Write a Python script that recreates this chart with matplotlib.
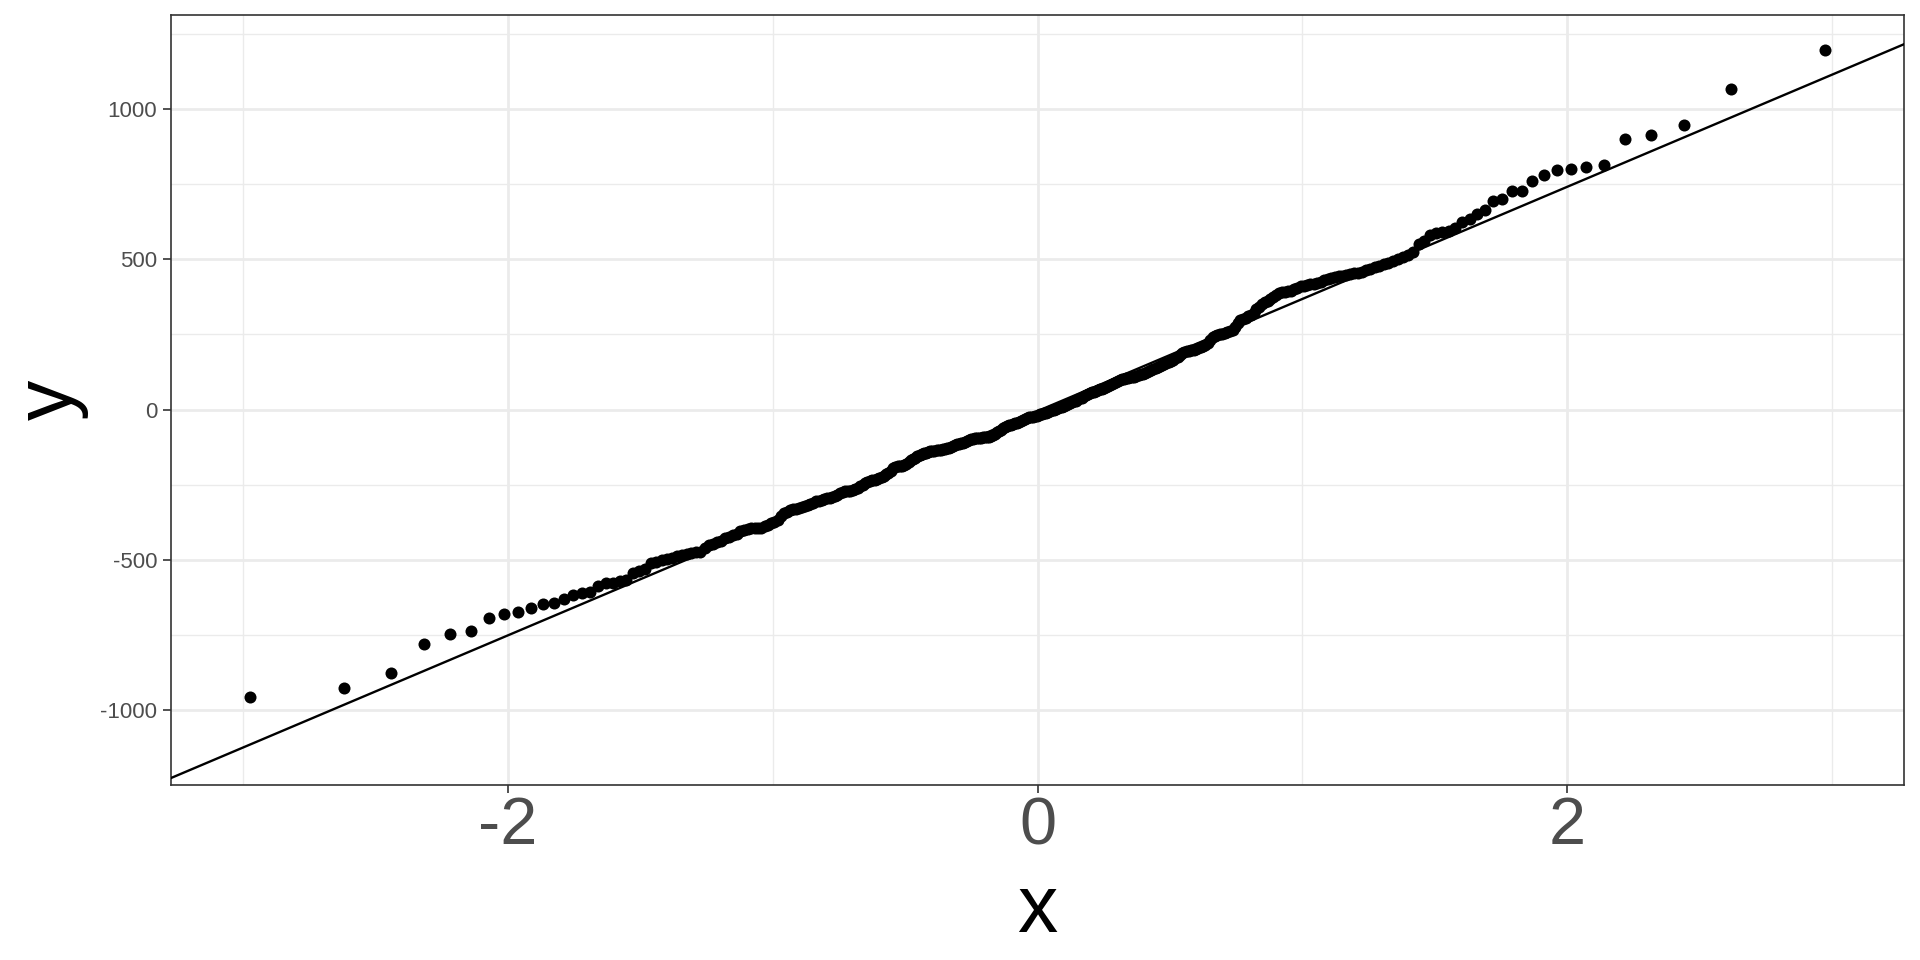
from statistics import NormalDist

import numpy as np
import matplotlib
matplotlib.use("Agg")
from matplotlib import pyplot as plt

# sorted sample values
sample = [
    -958, -927, -876, -782, -748, -737, -694, -682, -675, -662,
    -648, -644, -632, -616, -612, -606, -586, -579, -578, -570,
    -566, -543, -536, -532, -512, -506, -502, -498, -494, -489,
    -484, -480, -476, -475, -474, -462, -451, -446, -440, -436,
    -428, -423, -418, -414, -406, -400, -397, -396, -396, -396,
    -394, -388, -383, -378, -375, -369, -355, -344, -340, -336,
    -332, -330, -328, -324, -321, -317, -314, -310, -306, -303,
    -300, -297, -295, -294, -292, -289, -283, -278, -273, -272,
    -271, -270, -269, -264, -260, -256, -250, -246, -242, -239,
    -236, -233, -231, -228, -225, -221, -215, -210, -204, -196,
    -190, -189, -189, -188, -186, -180, -174, -169, -164, -160,
    -156, -152, -149, -146, -144, -142, -139, -138, -137, -136,
    -135, -134, -133, -131, -129, -127, -124, -122, -119, -116,
    -114, -112, -110, -107, -104, -101, -98, -97, -96, -96,
    -95, -94, -93, -92, -91, -90, -89, -85, -80, -76,
    -72, -67, -62, -58, -54, -52, -50, -48, -46, -44,
    -41, -38, -34, -31, -28, -26, -25, -24, -22, -21,
    -19, -16, -14, -12, -10, -7, -4, -2, 0, 2,
    5, 8, 10, 13, 15, 18, 21, 24, 27, 30,
    34, 37, 40, 44, 48, 51, 54, 57, 60, 62,
    65, 68, 70, 73, 76, 79, 83, 86, 89, 92,
    96, 99, 101, 103, 104, 106, 107, 109, 110, 112,
    115, 117, 119, 122, 126, 129, 132, 135, 138, 141,
    145, 148, 151, 154, 158, 161, 165, 170, 176, 183,
    189, 192, 194, 195, 197, 199, 202, 205, 208, 211,
    214, 220, 232, 241, 246, 249, 251, 253, 255, 258,
    261, 266, 276, 288, 297, 302, 306, 310, 314, 323,
    334, 343, 350, 357, 363, 369, 375, 382, 388, 391,
    393, 394, 395, 400, 406, 411, 413, 415, 417, 419,
    422, 425, 430, 434, 437, 440, 443, 446, 448, 451,
    453, 455, 459, 463, 469, 475, 479, 484, 488, 493,
    500, 507, 515, 524, 550, 560, 580, 588, 592, 596,
    603, 624, 636, 651, 665, 693, 700, 727, 729, 760,
    782, 796, 801, 809, 813, 902, 915, 947, 1067, 1198,
]

x_ticks = [-2, 0, 2]
x_minor = [-3, -1, 1, 3]
y_ticks = [-1000, -500, 0, 500, 1000]
y_minor = [-1250, -750, -250, 250, 750, 1250]

plt.rcParams["font.family"] = ["Liberation Sans", "DejaVu Sans"]
plt.rcParams["axes.unicode_minus"] = False

y = np.sort(np.array(sample, dtype=float))
n = len(y)
nd = NormalDist()
theo = np.array([nd.inv_cdf((i - 0.5) / n) for i in range(1, n + 1)])

# qq line through the quartiles
q1, q3 = np.quantile(y, [0.25, 0.75])
z1, z3 = nd.inv_cdf(0.25), nd.inv_cdf(0.75)
slope = (q3 - q1) / (z3 - z1)
intercept = q1 - slope * z1

# limits like ggplot (5% expansion)
xr = theo.min(), theo.max()
xpad = 0.05 * (xr[1] - xr[0])
xlim = (xr[0] - xpad, xr[1] + xpad)
line_ends = intercept + slope * np.array(xr)
ymin = min(y.min(), line_ends.min())
ymax = max(y.max(), line_ends.max())
ypad = 0.05 * (ymax - ymin)
ylim = (ymin - ypad, ymax + ypad)

fig = plt.figure(figsize=(19.2, 9.6), dpi=100)
ax = fig.add_axes([0.0891, 0.1823, 0.9026, 0.8021])

ax.set_xlim(xlim)
ax.set_ylim(ylim)
ax.set_xticks(x_ticks)
ax.set_yticks(y_ticks)
ax.set_xticks(x_minor, minor=True)
ax.set_yticks(y_minor, minor=True)

ax.grid(True, which="major", color="#EBEBEB", linewidth=2.0)
ax.grid(True, which="minor", color="#EBEBEB", linewidth=1.0)
ax.set_axisbelow(True)

xl = np.array(xlim)
ax.plot(xl, intercept + slope * xl, color="black", linewidth=1.7, zorder=3)
ax.scatter(theo, y, s=75, color="black", linewidths=0, zorder=4)

for sp in ax.spines.values():
    sp.set_color("#333333")
    sp.set_linewidth(1.2)

ax.tick_params(which="major", length=6, width=1.2, color="#333333")
ax.tick_params(which="minor", length=0)
ax.tick_params(axis="x", labelsize=48, labelcolor="#4D4D4D", pad=2)
ax.tick_params(axis="y", labelsize=16, labelcolor="#4D4D4D", pad=4)

ax.set_xlabel("x", fontsize=58, labelpad=11)
ax.set_ylabel("y", fontsize=58, labelpad=8)

fig.savefig("out.png", dpi=100)
